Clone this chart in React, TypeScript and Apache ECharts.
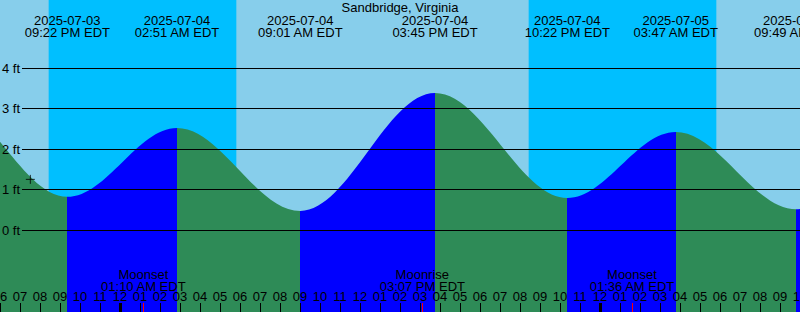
import React, { useEffect, useRef } from "react";
import * as echarts from "echarts";

const chartTitle = "Sandbridge, Virginia";
const viewStart = "2025-07-03 18:00";
const viewEnd = "2025-07-05 10:00";

// Tide extremes (local time, EDT) and heights in ft
const tideTimes = [
  "2025-07-03 08:40",
  "2025-07-03 15:12",
  "2025-07-03 21:22",
  "2025-07-04 02:51",
  "2025-07-04 09:01",
  "2025-07-04 15:45",
  "2025-07-04 22:22",
  "2025-07-05 03:47",
  "2025-07-05 09:49",
  "2025-07-05 16:20",
];
const tideHeights = [0.5, 3.2, 0.82, 2.52, 0.47, 3.38, 0.79, 2.42, 0.51, 3.4];

const nightStarts = ["2025-07-03 20:26", "2025-07-04 20:26"];
const nightEnds = ["2025-07-04 05:49", "2025-07-05 05:49"];

const moonLabels = ["Moonset", "Moonrise", "Moonset"];
const moonTimes = ["2025-07-04 01:10", "2025-07-04 15:07", "2025-07-05 01:36"];

const midnightTimes = ["2025-07-04 00:00", "2025-07-05 00:00"];

const heightMin = 0;
const heightMax = 4;

const markerTime = "2025-07-03 19:31";
const markerHeight = 1.25;

const FONT = "Liberation Sans";
const SKY = "#87CEEB";
const NIGHT = "#00BFFF";
const FLOOD = "#0000FF";
const EBB = "#2E8B57";

const BASE = Date.UTC(2025, 6, 4, 0, 0);
function toHours(s: string): number {
  const [d, t] = s.split(" ");
  const [Y, M, D] = d.split("-").map(Number);
  const [h, m] = t.split(":").map(Number);
  return (Date.UTC(Y, M - 1, D, h, m) - BASE) / 3600000;
}
function fmtTime(s: string): string {
  const t = s.split(" ")[1];
  const [h, m] = t.split(":").map(Number);
  const hh = h % 12 === 0 ? 12 : h % 12;
  const ap = h < 12 ? "AM" : "PM";
  return `${String(hh).padStart(2, "0")}:${String(m).padStart(2, "0")} ${ap} EDT`;
}
function hourLabel(v: number): string {
  const h = ((Math.round(v) % 24) + 24) % 24;
  const hh = h % 12 === 0 ? 12 : h % 12;
  return String(hh).padStart(2, "0");
}

export default function App() {
  const ref = useRef<HTMLDivElement>(null);
  useEffect(() => {
    if (!ref.current) return;
    const chart = echarts.init(ref.current, null, { renderer: "svg" });
    const xMin = toHours(viewStart);
    const xMax = toHours(viewEnd);
    const tideHours = tideTimes.map(toHours);
    const tideData = tideHours.map((h, i) => [h, tideHeights[i]]);
    const pieces = [] as any[];
    for (let i = 0; i < tideHours.length - 1; i++) {
      pieces.push({
        gte: tideHours[i],
        lt: tideHours[i + 1],
        color: tideHeights[i + 1] > tideHeights[i] ? FLOOD : EBB,
      });
    }
    const labelData = tideHours
      .map((h, i) => [h, i])
      .filter((d) => d[0] >= xMin && d[0] <= xMax);
    const nightData = nightStarts.map((s, i) => [toHours(s), toHours(nightEnds[i])]);
    const moonData = moonTimes.map((s, i) => [toHours(s), i]);
    const midnightData = midnightTimes.map((s) => [toHours(s), 0]);
    const txt = {
      fill: "#000",
      fontSize: 13,
      fontFamily: FONT,
      align: "center",
      verticalAlign: "middle",
      textAlign: "center",
      textVerticalAlign: "middle",
    };

    chart.setOption({
      animation: false,
      backgroundColor: SKY,
      title: {
        text: chartTitle,
        left: "center",
        top: 1,
        padding: 0,
        textStyle: { fontSize: 13, fontWeight: "normal", fontFamily: FONT, color: "#000" },
      },
      grid: [
        { left: 0, right: 0, top: 0, bottom: 0, outerBoundsMode: "none", containLabel: false },
        { left: 22, right: 0, top: 68, height: 162, outerBoundsMode: "none", containLabel: false },
      ],
      xAxis: [
        {
          type: "value",
          gridIndex: 0,
          min: xMin,
          max: xMax,
          interval: 1,
          position: "bottom",
          z: 4,
          axisLine: { show: false, onZero: false },
          axisTick: { show: true, inside: true, length: 9, lineStyle: { color: "#000", width: 1 } },
          axisLabel: {
            inside: true,
            margin: 9,
            formatter: hourLabel,
            color: "#000",
            fontSize: 13,
            fontFamily: FONT,
            showMinLabel: true,
            showMaxLabel: true,
          },
          splitLine: { show: false },
        },
        { type: "value", gridIndex: 1, min: 0, max: 1, show: false },
      ],
      yAxis: [
        { type: "value", gridIndex: 0, min: -2.025, max: 5.679, show: false },
        {
          type: "value",
          gridIndex: 1,
          min: heightMin,
          max: heightMax,
          interval: 1,
          z: 4,
          axisLine: { show: false },
          axisTick: { show: false },
          axisLabel: {
            formatter: "{value} ft",
            color: "#000",
            fontSize: 13,
            fontFamily: FONT,
            margin: 2,
          },
          splitLine: { show: true, lineStyle: { color: "#000", width: 1 } },
        },
      ],
      visualMap: {
        type: "piecewise",
        show: false,
        dimension: 0,
        seriesIndex: 1,
        pieces,
        outOfRange: { color: EBB },
      },
      series: [
        {
          type: "custom",
          name: "night",
          xAxisIndex: 0,
          yAxisIndex: 0,
          z: 1,
          data: nightData,
          renderItem: (params: any, api: any) => {
            const p1 = api.coord([api.value(0), 0]);
            const p2 = api.coord([api.value(1), 0]);
            const cs = params.coordSys;
            return {
              type: "rect",
              shape: { x: p1[0], y: cs.y, width: p2[0] - p1[0], height: cs.height },
              style: { fill: NIGHT },
            };
          },
        },
        {
          type: "line",
          name: "tide",
          xAxisIndex: 0,
          yAxisIndex: 0,
          z: 2,
          data: tideData,
          smooth: 0.36,
          smoothMonotone: "x",
          showSymbol: false,
          lineStyle: { width: 0 },
          areaStyle: { opacity: 1, origin: "start" },
        },
        {
          type: "scatter",
          name: "now",
          xAxisIndex: 0,
          yAxisIndex: 0,
          z: 5,
          data: [[toHours(markerTime), markerHeight]],
          symbol: "path://M0,5L10,5M5,0L5,10",
          symbolSize: 9,
          itemStyle: { color: "transparent", borderColor: "#000", borderWidth: 1 },
        },
        {
          type: "custom",
          name: "extremeLabels",
          xAxisIndex: 0,
          yAxisIndex: 0,
          z: 5,
          data: labelData,
          renderItem: (params: any, api: any) => {
            const x = api.coord([api.value(0), 0])[0];
            const s = tideTimes[api.value(1)];
            return {
              type: "group",
              children: [
                { type: "text", x, y: 20, style: { ...txt, text: s.split(" ")[0] } },
                { type: "text", x, y: 32, style: { ...txt, text: fmtTime(s) } },
              ],
            };
          },
        },
        {
          type: "custom",
          name: "moon",
          xAxisIndex: 0,
          yAxisIndex: 0,
          z: 5,
          data: moonData,
          renderItem: (params: any, api: any) => {
            const x = api.coord([api.value(0), 0])[0];
            const i = api.value(1);
            const cs = params.coordSys;
            const bottom = cs.y + cs.height;
            return {
              type: "group",
              children: [
                { type: "text", x, y: 274, style: { ...txt, text: moonLabels[i] } },
                { type: "text", x, y: 286, style: { ...txt, text: fmtTime(moonTimes[i]) } },
                {
                  type: "rect",
                  shape: { x: Math.round(x), y: bottom - 9, width: 1, height: 9 },
                  style: { fill: "#FF0000" },
                },
              ],
            };
          },
        },
        {
          type: "custom",
          name: "midnight",
          xAxisIndex: 0,
          yAxisIndex: 0,
          z: 5,
          data: midnightData,
          renderItem: (params: any, api: any) => {
            const x = api.coord([api.value(0), 0])[0];
            const cs = params.coordSys;
            const bottom = cs.y + cs.height;
            return {
              type: "rect",
              shape: { x: Math.round(x) - 1, y: bottom - 9, width: 3, height: 9 },
              style: { fill: "#000" },
            };
          },
        },
      ],
    });
    return () => chart.dispose();
  }, []);
  return (
    <div
      ref={ref}
      style={{ position: "fixed", left: 0, top: 0, width: 800, height: 312 }}
    />
  );
}
